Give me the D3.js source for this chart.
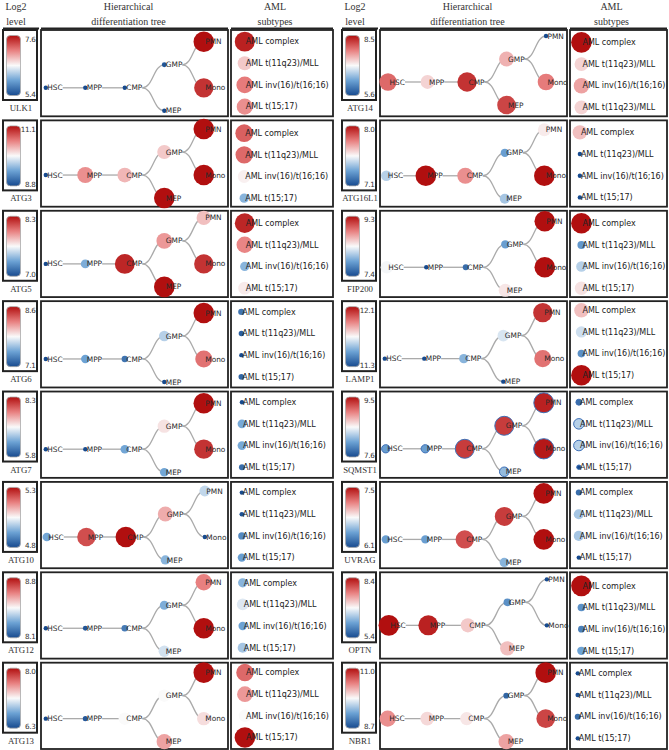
<!DOCTYPE html>
<html>
<head>
<meta charset="utf-8">
<script src="https://cdn.jsdelivr.net/npm/d3@7"></script>
<style>
  body { margin: 0; background: #fff; }
  svg { display: block; }
  .serif { font-family: "Liberation Serif", "DejaVu Serif", serif; }
  .sans { font-family: "DejaVu Sans", Verdana, sans-serif; }
</style>
</head>
<body>
<svg id="chart" width="669" height="750"></svg>
<script>
// genes: first 8 in the left column, last 8 in the right column
var genes = ["ULK1", "ATG3", "ATG5", "ATG6", "ATG7", "ATG10", "ATG12", "ATG13",
             "ATG14", "ATG16L1", "FIP200", "LAMP1", "SQMST1", "UVRAG", "OPTN", "NBR1"];
var log2Max = ["7.6", "11.1", "8.3", "8.6", "8.3", "5.3", "8.8", "8.0",
               "8.5", "8.0", "9.3", "12.1", "9.5", "7.5", "8.4", "11.0"];
var log2Min = ["5.4", "8.8", "7.0", "7.1", "5.8", "4.8", "8.1", "6.3",
               "5.6", "7.1", "7.4", "11.3", "7.6", "6.1", "5.4", "8.7"];

// differentiation tree
var stages = ["HSC", "MPP", "CMP", "GMP", "MEP", "PMN", "Mono"];
var stageDepth = [0, 1, 2, 3, 3, 4, 4];
var stageBranch = [0, 0, 0, -1, 1, -2, 0];
var treeEdges = [["HSC", "MPP"], ["MPP", "CMP"], ["CMP", "GMP"], ["CMP", "MEP"], ["GMP", "PMN"], ["GMP", "Mono"]];

// relative level (0 = min, 1 = max of the gene's scale), order of stages
var stageLevels = [
  [0, 0, 0, 0.03, 0, 1, 0.92],          // ULK1
  [0, 0.72, 0.64, 0.6, 1, 1, 1],        // ATG3
  [0, 0.28, 0.95, 0.7, 1, 0.62, 0.92],  // ATG5
  [0, 0.25, 0.12, 0.38, 0, 1, 0.78],    // ATG6
  [0, 0, 0.26, 0.55, 0.26, 1, 0.92],    // ATG7
  [0.26, 0.86, 1, 0.66, 0.3, 0.4, 0],   // ATG10
  [0, 0.03, 0.14, 0.28, 0.43, 0.75, 1], // ATG12
  [0, 0.04, 0.5, 0.5, 0.68, 1, 0.56],   // ATG13
  [0.8, 0.58, 0.92, 0.65, 0.88, 0, 0.76], // ATG14
  [0.38, 1, 0.72, 0.24, 0.35, 0.53, 1], // ATG16L1
  [0.49, 0, 0.1, 0.24, 0.54, 1, 1],     // FIP200
  [0, 0, 0.3, 0.44, 0, 0.92, 0.78],     // LAMP1
  [0.24, 0.24, 0.9, 0.9, 0.32, 0.96, 0.98], // SQMST1
  [0.24, 0.24, 0.86, 0.9, 0.3, 1, 1],   // UVRAG
  [1, 0.96, 0.6, 0.2, 0.62, 0, 0],      // OPTN
  [0.72, 0.57, 0.54, 0.08, 0.68, 1, 0.88] // NBR1
];

// AML subtypes
var amlSubtypes = ["AML complex", "AML t(11q23)/MLL", "AML inv(16)/t(16;16)", "AML t(15;17)"];
var amlSubtypesATG14 = ["AML complex", "AML t(11q23)/MLL", "AML inv(16)/t(16;16)", "AML t(11q23)/MLL"];
var amlLevels = [
  [0.96, 0.6, 0.76, 0.72],  // ULK1
  [0.82, 0.8, 0.52, 0.3],   // ATG3
  [0.95, 0.74, 0.3, 0.53],  // ATG5
  [0.12, 0.06, 0, 0.08],    // ATG6
  [0, 0.27, 0.27, 0.1],     // ATG7
  [0, 0.02, 0.18, 0.24],    // ATG10
  [0.3, 0.45, 0.25, 0.35],  // ATG12
  [0.8, 0.7, 0.5, 1],       // ATG13
  [1, 0.58, 0.68, 0.58],    // ATG14
  [0.62, 0, 0, 0],          // ATG16L1
  [1, 0.22, 0.38, 0.55],    // FIP200
  [0.62, 0.42, 0.2, 1],     // LAMP1
  [0.1, 0.38, 0.38, 0],     // SQMST1
  [0.1, 0.35, 0.35, 0],     // UVRAG
  [1, 0.2, 0.15, 0.25],     // OPTN
  [0, 0.02, 0.1, 0]         // NBR1
];

var outlinedGenes = ["SQMST1"];

var svg = d3.select("#chart");

var color = d3.scaleLinear()
  .domain([0, 0.25, 0.5, 0.75, 1])
  .range(["#174a8f", "#6ca2d4", "#fafafa", "#e88080", "#b10f0f"])
  .clamp(true);
var radius = d3.scaleLinear().domain([0, 1]).range([2.2, 10.3]);
var depthX = d3.scaleLinear().domain([0, 4]).range([0, 158]);
var branchY = d3.scaleLinear().domain([-2, 1]).range([-46, 23]);
var amlY = d3.scaleLinear().domain([0, 3]).range([0, 65]);
var rowY = d3.scaleBand().domain(d3.range(8)).range([30, 749]).paddingInner(0.045);
var link = d3.linkHorizontal().x(function(d) { return d[0]; }).y(function(d) { return d[1]; });

var cols = [
  {cb: 3, cbW: 34, tree: 41, treeW: 187, aml: 231, amlW: 102},
  {cb: 342, cbW: 34, tree: 380, treeW: 187, aml: 570, amlW: 97}
];

// gradient for the log2 bars
var grad = svg.append("defs").append("linearGradient")
  .attr("id", "lvl").attr("x1", 0).attr("y1", 0).attr("x2", 0).attr("y2", 1);
grad.selectAll("stop").data([1, 0.75, 0.5, 0.25, 0]).join("stop")
  .attr("offset", function(d) { return (1 - d) * 100 + "%"; })
  .attr("stop-color", function(d) { return color(d); });

// headers
cols.forEach(function(c) {
  var h = svg.append("g").attr("class", "serif").attr("font-size", 10).attr("fill", "#333")
    .attr("text-anchor", "middle");
  h.append("text").attr("x", c.cb + c.cbW / 2 - 4).attr("y", 9.5).text("Log2");
  h.append("text").attr("x", c.cb + c.cbW / 2 - 4).attr("y", 24.5).text("level");
  h.append("text").attr("x", c.tree + c.treeW / 2 - 6).attr("y", 10).text("Hierarchical");
  h.append("text").attr("x", c.tree + c.treeW / 2 - 6).attr("y", 24.5).text("differentiation tree");
  h.append("text").attr("x", c.aml + c.amlW / 2 - 7).attr("y", 10).text("AML");
  h.append("text").attr("x", c.aml + c.amlW / 2 - 7).attr("y", 24.5).text("subtypes");
  [[c.cb, c.cb + c.cbW + 2], [c.tree, c.tree + c.treeW], [c.aml, c.aml + c.amlW]].forEach(function(s) {
    svg.append("line").attr("x1", s[0]).attr("x2", s[1]).attr("y1", 28.5).attr("y2", 28.5)
      .attr("stroke", "#222").attr("stroke-width", 2.2);
  });
});

function drawScale(g, c, top, i) {
  g.append("rect").attr("x", c.cb).attr("y", top).attr("width", c.cbW).attr("height", 70)
    .attr("fill", "#fff").attr("stroke", "#222").attr("stroke-width", 2);
  g.append("rect").attr("x", c.cb + 3.5).attr("y", top + 5.5).attr("width", 14).attr("height", 60)
    .attr("rx", 4).attr("fill", "url(#lvl)").attr("stroke", "#aaa").attr("stroke-width", 0.8);
  g.append("text").attr("class", "sans").attr("font-size", 7.2).attr("letter-spacing", -0.3)
    .attr("fill", "#333").attr("text-anchor", "end")
    .attr("x", c.cb + c.cbW - 1.5).attr("y", top + 11.5).text(log2Max[i]);
  g.append("text").attr("class", "sans").attr("font-size", 7.2).attr("letter-spacing", -0.3)
    .attr("fill", "#333").attr("text-anchor", "end")
    .attr("x", c.cb + c.cbW - 1.5).attr("y", top + 66.5).text(log2Min[i]);
  g.append("text").attr("class", "serif").attr("font-size", 8.8).attr("fill", "#333")
    .attr("text-anchor", "middle").attr("x", c.cb + c.cbW / 2 + 1).attr("y", top + 81).text(genes[i]);
}

function drawTree(g, c, top, h, vals, outlined) {
  g.append("rect").attr("x", c.tree).attr("y", top).attr("width", c.treeW).attr("height", h)
    .attr("fill", "#fff").attr("stroke", "#222").attr("stroke-width", 1.8);
  var nodes = stages.map(function(s, k) {
    return {name: s, v: vals[k], r: radius(vals[k]), mx: depthX(stageDepth[k]), my: branchY(stageBranch[k])};
  });
  var byName = {};
  nodes.forEach(function(d) { byName[d.name] = d; });
  var edgeG = g.append("g"), nodeG = g.append("g"), labG = g.append("g");

  var labels = labG.selectAll("text").data(nodes).join("text")
    .attr("class", "sans").attr("font-size", 7.4).attr("fill", "#2a2a2a").attr("dy", "0.35em")
    .text(function(d) { return d.name; })
    .each(function(d) { d.w = this.getComputedTextLength(); });

  // centre the tree (circles + labels) inside its box
  var left = d3.min(nodes, function(d) { return d.mx - d.r; });
  var right = d3.max(nodes, function(d) { return Math.max(d.mx + d.r, d.mx + 1.5 + d.w); });
  var topB = d3.min(nodes, function(d) { return d.my - Math.max(d.r, 4); });
  var botB = d3.max(nodes, function(d) { return d.my + Math.max(d.r, 4); });
  var ox = c.tree + (c.treeW - (right - left)) / 2 - left;
  var oy = top + (h - (botB - topB)) / 2 - topB;
  nodes.forEach(function(d) { d.x = d.mx + ox; d.y = d.my + oy; });

  edgeG.selectAll("path").data(treeEdges).join("path")
    .attr("d", function(e) {
      var s = byName[e[0]], t = byName[e[1]];
      return link({source: [s.x + 1.5 + s.w, s.y], target: [t.x, t.y]});
    })
    .attr("fill", "none").attr("stroke", "#aaa").attr("stroke-width", 1.3);

  nodeG.selectAll("circle").data(nodes).join("circle")
    .attr("cx", function(d) { return d.x; }).attr("cy", function(d) { return d.y; })
    .attr("r", function(d) { return d.r; })
    .attr("fill", function(d) { return color(d.v); })
    .attr("stroke", outlined ? "#3d6fb6" : "none").attr("stroke-width", 1);

  labels.attr("x", function(d) { return d.x + 1.5; }).attr("y", function(d) { return d.y; });
}

function drawAml(g, c, top, h, vals, names, outlined) {
  g.append("rect").attr("x", c.aml).attr("y", top).attr("width", c.amlW).attr("height", h)
    .attr("fill", "#fff").attr("stroke", "#222").attr("stroke-width", 1.8);
  var items = vals.map(function(v, k) { return {v: v, r: radius(v), name: names[k], my: amlY(k)}; });
  var nodeG = g.append("g"), labG = g.append("g");
  var labels = labG.selectAll("text").data(items).join("text")
    .attr("class", "sans").attr("font-size", 8).attr("fill", "#222").attr("dy", "0.35em")
    .text(function(d) { return d.name; })
    .each(function(d) { d.w = this.getComputedTextLength(); });

  var maxR = d3.max(items, function(d) { return d.r; });
  var width = maxR + 1.5 + d3.max(items, function(d) { return d.w; });
  var cx = c.aml + (c.amlW - width) / 2 + maxR;
  var topB = d3.min(items, function(d) { return d.my - Math.max(d.r, 4.5); });
  var botB = d3.max(items, function(d) { return d.my + Math.max(d.r, 4.5); });
  var oy = top + (h - (botB - topB)) / 2 - topB;

  nodeG.selectAll("circle").data(items).join("circle")
    .attr("cx", cx).attr("cy", function(d) { return d.my + oy; })
    .attr("r", function(d) { return d.r; })
    .attr("fill", function(d) { return color(d.v); })
    .attr("stroke", outlined ? "#3d6fb6" : "none").attr("stroke-width", 1);

  labels.attr("x", cx + 1).attr("y", function(d) { return d.my + oy; });
}

genes.forEach(function(gene, i) {
  var c = cols[i < 8 ? 0 : 1];
  var top = rowY(i % 8);
  var h = rowY.bandwidth();
  var g = svg.append("g").attr("class", "panel");
  var outlined = outlinedGenes.indexOf(gene) >= 0;
  drawScale(g, c, top, i);
  drawTree(g, c, top, h, stageLevels[i], outlined);
  drawAml(g, c, top, h, amlLevels[i], gene === "ATG14" ? amlSubtypesATG14 : amlSubtypes, outlined);
});
</script>
</body>
</html>
